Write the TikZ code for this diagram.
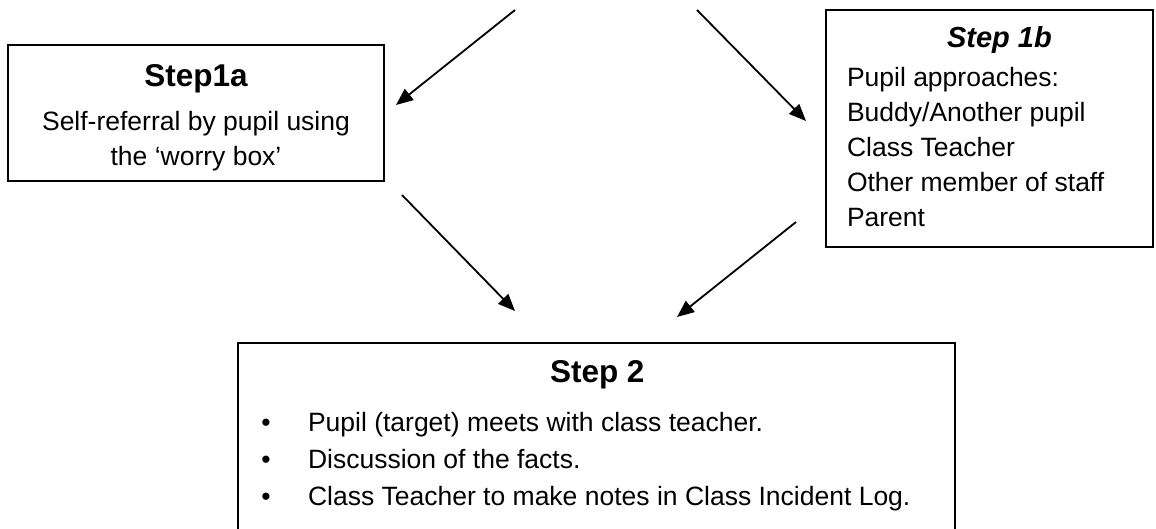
\documentclass[tikz,border=0pt]{standalone}
\usepackage{fontspec}
\setmainfont{Liberation Sans}
\usetikzlibrary{arrows.meta}
\newcommand\bodyfnt{\fontsize{26.5}{35}\selectfont}
\newcommand\headfnt{\fontsize{31.5}{38}\selectfont\bfseries}
\tikzset{
  box/.style={draw=black, line width=1.4pt, inner sep=0pt, fill=none},
  conn/.style={line width=1.8pt, -{Triangle[length=17pt,width=14pt]}},
  txt/.style={inner sep=0pt, outer sep=0pt, font=\bodyfnt},
}
\begin{document}
\begin{tikzpicture}[x=1pt,y=-1pt]
\path[use as bounding box, clip] (0,0) rectangle (1156,529);
\fill[white] (0,0) rectangle (1156,529);

% boxes
\node[box, minimum width=376pt, minimum height=136pt] (s1a) at (196,113) {};
\node[box, minimum width=327pt, minimum height=237pt] (s1b) at (989.5,128.5) {};
\node[box, minimum width=717pt, minimum height=210pt] (s2) at (596.5,448) {};

% Step 1a text
\node[txt, anchor=base, font=\headfnt] (h1a) at (196,87) {Step1a};
\node[txt, anchor=base] (t1a1) at (196,131) {Self-referral by pupil using};
\node[txt, anchor=base] (t1a2) at (196,166) {the ‘worry box’};

% Step 1b text
\node[txt, anchor=base west, font=\fontsize{29}{36}\selectfont\bfseries\itshape] (h1b) at (947,48) {Step 1b};
\node[txt, anchor=base west] (t1b1) at (847,86.5) {Pupil approaches:};
\node[txt, anchor=base west] (t1b2) at (847,121.5) {Buddy/Another pupil};
\node[txt, anchor=base west] (t1b3) at (847,156.5) {Class Teacher};
\node[txt, anchor=base west] (t1b4) at (847,191.5) {Other member of staff};
\node[txt, anchor=base west] (t1b5) at (847,226.5) {Parent};

% Step 2 text
\node[txt, anchor=base west, font=\headfnt] (h2) at (550,382) {Step 2};
\node[txt, anchor=base] (b1) at (266,431.5) {•};
\node[txt, anchor=base] (b2) at (266,468.5) {•};
\node[txt, anchor=base] (b3) at (266,505.5) {•};
\node[txt, anchor=base west] (t21) at (308,431.5) {Pupil (target) meets with class teacher.};
\node[txt, anchor=base west] (t22) at (308,468.5) {Discussion of the facts.};
\node[txt, anchor=base west] (t23) at (308,505.5) {Class Teacher to make notes in Class Incident Log.};

% connector end points
\coordinate (a1s) at (515,10);
\coordinate (a1e) at (396,105);
\coordinate (a2s) at (697,10);
\coordinate (a2e) at (806,121);
\coordinate (a3s) at (402,195);
\coordinate (a3e) at (515,311);
\coordinate (a4s) at (796,222);
\coordinate (a4e) at (677,317);

\draw[conn] (a1s) -- (a1e);
\draw[conn] (a2s) -- (a2e);
\draw[conn] (a3s) -- (a3e);
\draw[conn] (a4s) -- (a4e);
\end{tikzpicture}
\end{document}
